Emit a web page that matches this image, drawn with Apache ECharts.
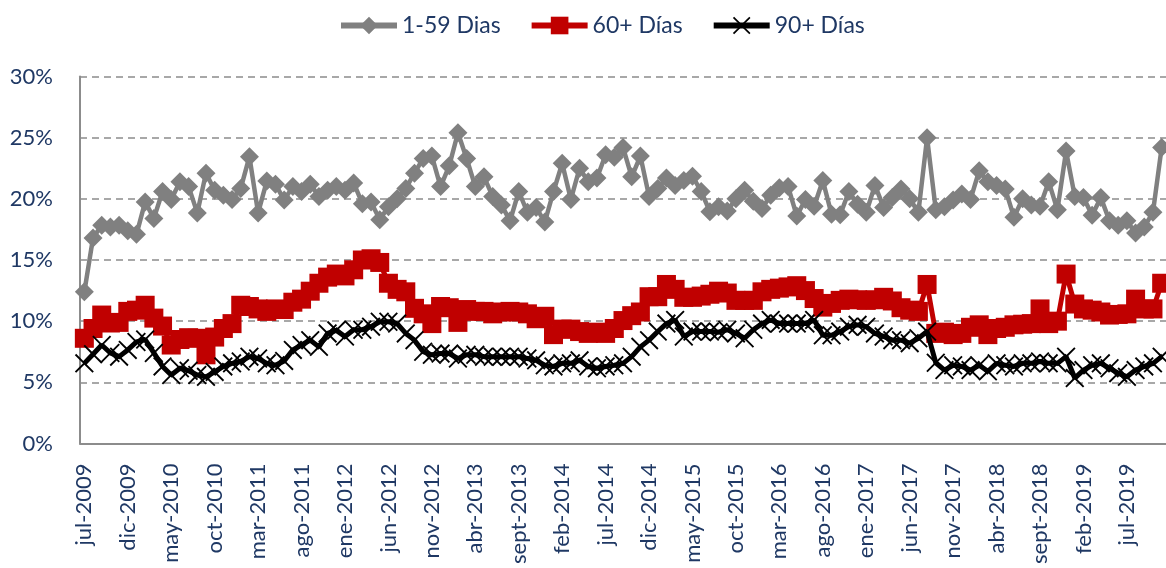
<!DOCTYPE html>
<html>
<head>
<meta charset="utf-8">
<script src="https://cdn.jsdelivr.net/npm/echarts@6/dist/echarts.min.js"></script>
<style>
html,body{margin:0;padding:0;background:#fff;}
#chart{width:1166px;height:568px;}
</style>
</head>
<body>
<div id="chart"></div>
<script>
// Categories (monthly, jul-2009 .. nov-2019)
var categories = [
  'jul-2009','ago-2009','sept-2009','oct-2009','nov-2009','dic-2009',
  'ene-2010','feb-2010','mar-2010','abr-2010','may-2010','jun-2010','jul-2010','ago-2010','sept-2010','oct-2010','nov-2010','dic-2010',
  'ene-2011','feb-2011','mar-2011','abr-2011','may-2011','jun-2011','jul-2011','ago-2011','sept-2011','oct-2011','nov-2011','dic-2011',
  'ene-2012','feb-2012','mar-2012','abr-2012','may-2012','jun-2012','jul-2012','ago-2012','sept-2012','oct-2012','nov-2012','dic-2012',
  'ene-2013','feb-2013','mar-2013','abr-2013','may-2013','jun-2013','jul-2013','ago-2013','sept-2013','oct-2013','nov-2013','dic-2013',
  'ene-2014','feb-2014','mar-2014','abr-2014','may-2014','jun-2014','jul-2014','ago-2014','sept-2014','oct-2014','nov-2014','dic-2014',
  'ene-2015','feb-2015','mar-2015','abr-2015','may-2015','jun-2015','jul-2015','ago-2015','sept-2015','oct-2015','nov-2015','dic-2015',
  'ene-2016','feb-2016','mar-2016','abr-2016','may-2016','jun-2016','jul-2016','ago-2016','sept-2016','oct-2016','nov-2016','dic-2016',
  'ene-2017','feb-2017','mar-2017','abr-2017','may-2017','jun-2017','jul-2017','ago-2017','sept-2017','oct-2017','nov-2017','dic-2017',
  'ene-2018','feb-2018','mar-2018','abr-2018','may-2018','jun-2018','jul-2018','ago-2018','sept-2018','oct-2018','nov-2018','dic-2018',
  'ene-2019','feb-2019','mar-2019','abr-2019','may-2019','jun-2019','jul-2019','ago-2019','sept-2019','oct-2019','nov-2019'
];

var seriesNames = ['1-59 Dias', '60+ Días', '90+ Días'];

// 1-59 Dias (%)
var dias1_59 = [
  12.4,16.8,17.85,17.7,17.85,17.4,
  17.1,19.75,18.4,20.6,19.95,21.4,21.0,18.85,22.1,20.7,20.3,19.95,
  20.85,23.45,18.85,21.45,21.2,19.9,21.0,20.6,21.2,20.2,20.7,21.0,
  20.7,21.3,19.6,19.75,18.3,19.35,20.0,20.85,22.1,23.3,23.5,21.0,
  22.7,25.4,23.3,21.0,21.8,20.2,19.5,18.2,20.6,18.9,19.3,18.1,
  20.6,22.9,19.95,22.5,21.4,21.7,23.6,23.4,24.2,21.8,23.5,20.2,
  20.85,21.7,21.1,21.5,21.85,20.6,18.95,19.35,19.0,20.0,20.7,19.8,
  19.2,20.3,20.9,21.0,18.6,19.95,19.4,21.5,18.75,18.7,20.6,19.55,
  18.9,21.1,19.3,20.1,20.8,20.0,18.9,25.0,19.1,19.35,19.9,20.4,
  19.95,22.3,21.4,21.1,20.8,18.5,20.0,19.5,19.4,21.4,19.1,23.9,
  20.2,20.1,18.65,20.1,18.2,17.85,18.2,17.2,17.7,18.9,24.2
];

// 60+ Días (%)
var dias60 = [
  8.6,9.4,10.5,9.85,9.9,10.8,
  10.9,11.3,10.25,9.6,8.05,8.5,8.65,8.6,7.25,8.7,9.4,9.8,
  11.3,11.2,11.0,10.8,11.0,10.95,11.55,11.8,12.45,13.1,13.6,13.85,
  13.7,14.2,15.0,15.1,14.8,13.1,12.6,12.4,11.05,10.6,9.8,11.2,
  11.1,9.9,10.95,10.8,10.8,10.6,10.75,10.8,10.75,10.6,10.2,10.4,
  8.9,9.35,9.35,9.15,9.0,9.1,9.0,9.4,10.05,10.45,10.75,12.0,
  12.0,13.0,12.6,11.95,11.95,12.05,12.2,12.45,12.3,11.7,11.7,11.7,
  12.4,12.6,12.7,12.8,12.9,12.5,11.85,11.15,11.45,11.7,11.8,11.75,
  11.7,11.75,11.95,11.65,11.1,10.9,10.8,13.0,9.0,9.1,8.9,9.0,
  9.5,9.7,8.9,9.4,9.5,9.7,9.75,9.8,11.0,9.8,10.0,13.85,
  11.4,11.0,10.9,10.75,10.5,10.55,10.6,11.8,11.0,11.0,13.1
];

// 90+ Días (%)
var dias90 = [
  6.55,7.3,8.05,7.4,7.1,7.65,
  8.3,8.5,7.4,6.3,5.6,6.15,5.95,5.6,5.45,5.85,6.3,6.55,
  6.7,7.1,6.95,6.55,6.4,6.75,7.65,8.05,8.45,7.9,9.0,9.25,
  8.75,9.3,9.3,9.55,9.95,9.95,9.8,9.0,8.45,7.5,7.25,7.35,
  7.35,6.95,7.25,7.25,7.1,7.1,7.1,7.1,7.1,6.95,6.8,6.4,
  6.3,6.55,6.55,6.8,6.3,6.15,6.3,6.4,6.55,7.1,7.9,8.45,
  9.15,9.8,10.1,8.75,9.15,9.15,9.15,9.1,9.3,9.0,8.6,9.3,
  9.8,10.1,9.8,9.8,9.8,9.8,10.1,8.85,8.85,9.15,9.55,9.7,
  9.55,9.0,8.75,8.45,8.45,8.2,8.6,9.15,6.6,6.0,6.4,6.3,
  6.0,6.4,5.9,6.55,6.4,6.3,6.55,6.55,6.7,6.55,6.55,7.1,
  5.35,6.0,6.4,6.55,6.15,5.75,5.45,6.0,6.3,6.55,7.1
];

var yTicks = [0, 5, 10, 15, 20, 25, 30];

var NAVY = '#1F3864';
var AXIS_GRAY = '#8C8C8C';
var FONT = 'Lato, "Open Sans", sans-serif';
var X_SYMBOL = 'path://M0,7L7,0L50,43L93,0L100,7L57,50L100,93L93,100L50,57L7,100L0,93L43,50Z';

var chart = echarts.init(document.getElementById('chart'), null, {renderer: 'canvas'});
chart.setOption({
  animation: false,
  backgroundColor: '#ffffff',
  textStyle: {fontFamily: FONT},
  legend: {
    data: seriesNames,
    left: 333,
    top: 9,
    itemWidth: 56,
    itemHeight: 22,
    itemGap: 28,
    lineStyle: {width: 6},
    textStyle: {color: NAVY, fontSize: 23, fontFamily: FONT}
  },
  grid: {left: 80, right: -5, top: 76.5, bottom: 124.5, containLabel: false},
  xAxis: {
    type: 'category',
    data: categories,
    boundaryGap: true,
    axisLine: {show: true, lineStyle: {color: AXIS_GRAY, width: 2}},
    axisTick: {show: false},
    axisLabel: {
      interval: 4,
      rotate: 90,
      margin: 20,
      color: NAVY,
      fontSize: 22,
      fontFamily: FONT
    },
    splitLine: {show: false}
  },
  yAxis: {
    type: 'value',
    min: yTicks[0],
    max: yTicks[yTicks.length - 1],
    interval: 5,
    axisLine: {show: true, lineStyle: {color: AXIS_GRAY, width: 2}},
    axisTick: {show: false},
    axisLabel: {
      formatter: '{value}%',
      margin: 27,
      color: NAVY,
      fontSize: 22,
      fontFamily: FONT
    },
    splitLine: {show: true, lineStyle: {color: AXIS_GRAY, width: 1.5, type: [7, 5]}}
  },
  series: [
    {
      name: seriesNames[0],
      type: 'line',
      data: dias1_59,
      symbol: 'diamond',
      symbolSize: 19,
      showSymbol: true,
      showAllSymbol: true,
      lineStyle: {color: '#808080', width: 4.5},
      itemStyle: {color: '#808080'},
      z: 2
    },
    {
      name: seriesNames[1],
      type: 'line',
      data: dias60,
      symbol: 'rect',
      symbolSize: 19,
      showSymbol: true,
      showAllSymbol: true,
      lineStyle: {color: '#C00000', width: 5},
      itemStyle: {color: '#C00000'},
      z: 3
    },
    {
      name: seriesNames[2],
      type: 'line',
      data: dias90,
      symbol: X_SYMBOL,
      symbolSize: 19,
      showSymbol: true,
      showAllSymbol: true,
      lineStyle: {color: '#000000', width: 5},
      itemStyle: {color: '#000000'},
      z: 4
    }
  ]
});
</script>
</body>
</html>
